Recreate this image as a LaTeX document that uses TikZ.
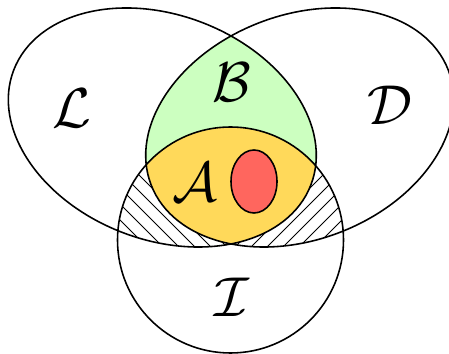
\documentclass[tikz,border=0pt]{standalone}
\definecolor{setgreen}{RGB}{204,255,192}
\definecolor{setyellow}{RGB}{255,217,90}
\definecolor{setred}{RGB}{255,102,94}
\tikzset{
  setline/.style={line width=0.9pt},
  setname/.style={scale=3.2},
  hatchline/.style={line width=0.5pt}
}
\newcommand{\setL}{(162.3,226.5) ellipse [x radius=159.3, y radius=112.3, rotate=-21.2]}
\newcommand{\setD}{(299.7,226.5) ellipse [x radius=159.3, y radius=112.3, rotate=21.2]}
\newcommand{\setI}{(230.5,114) circle [radius=113]}
\begin{document}
\begin{tikzpicture}[x=0.02cm,y=0.02cm]
    \useasboundingbox (0,0) rectangle (449,354);
    % B = L and D
    \begin{scope}
        \clip \setL;
        \fill [setgreen] \setD;
    \end{scope}
    % A = L and D and I
    \begin{scope}
        \clip \setL;
        \clip \setD;
        \fill [setyellow] \setI;
    \end{scope}
    % hatch, L and I without D
    \begin{scope}[even odd rule]
        \clip \setI;
        \clip \setL;
        \clip (0,0) rectangle (449,354) \setD;
        \foreach \k in {0,...,40}
            \draw [hatchline] (14+16*\k,0) -- ++(-354,354);
    \end{scope}
    % hatch, D and I without L
    \begin{scope}[even odd rule]
        \clip \setI;
        \clip \setD;
        \clip (0,0) rectangle (449,354) \setL;
        \foreach \k in {-25,...,30}
            \draw [hatchline] (16*\k,0) -- ++(354,354);
    \end{scope}
    \draw [setline] \setL;
    \draw [setline] \setD;
    \draw [setline] \setI;
    \draw [setline, fill=setred] (254,172.5) ellipse [x radius=23, y radius=31.5];
    % letters
    \node [setname] (nameL) at (72,246) {$\mathcal{L}$};
    \node [setname] (nameB) at (232,272) {$\mathcal{B}$};
    \node [setname] (nameD) at (390,249) {$\mathcal{D}$};
    \node [setname] (nameA) at (195,172) {$\mathcal{A}$};
    \node [setname] (nameI) at (232,57) {$\mathcal{I}$};
\end{tikzpicture}
\end{document}
